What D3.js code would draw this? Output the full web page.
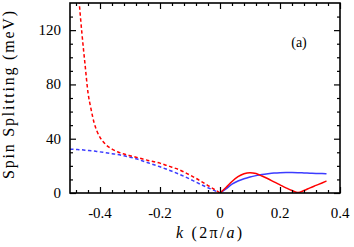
<!DOCTYPE html>
<html>
<head>
<meta charset="utf-8">
<script src="https://cdn.jsdelivr.net/npm/d3@7"></script>
<style>
  body { margin: 0; background: #fff; }
  text { font-family: "Liberation Serif", "Times New Roman", serif; fill: #000; }
</style>
</head>
<body>
<svg id="chart" width="354" height="247"></svg>
<script>
const width = 354;
const height = 247;
const marginTop = 3;
const marginRight = 14;
const marginBottom = 54;
const marginLeft = 70;

// k values and spin splitting (meV)
const kNeg = [-0.5, -0.49, -0.48, -0.47, -0.46, -0.45, -0.44, -0.43, -0.42, -0.41, -0.40, -0.39, -0.38, -0.36, -0.34,
  -0.32, -0.30, -0.28, -0.26, -0.24, -0.22, -0.20, -0.18, -0.16, -0.14, -0.12, -0.10, -0.08,
  -0.06, -0.04, -0.02, 0];
const redDashed = [null, null, null, 142, 117, 95, 74, 62, 52, 45.5, 41, 38, 35.5, 32.3, 30.2,
  28.7, 27.5, 26.4, 25.2, 24, 23, 22, 20.5, 19, 17.5, 15.5, 13.2, 10.8,
  8.2, 5.5, 2.8, 0];
const blueDashed = [32.3, 32.2, 32.1, 31.9, 31.8, 31.5, 31.3, 31.1, 31, 30.6, 30.3, 30, 29.7, 29, 28.3,
  27.4, 26.4, 25.2, 23.8, 22.3, 20.8, 19.3, 17.7, 16, 14.2, 12.3, 10.2, 8,
  5.9, 3.9, 1.9, 0];

const kPos = [0, 0.02, 0.04, 0.06, 0.08, 0.10, 0.12, 0.14, 0.16, 0.18, 0.20, 0.22, 0.24, 0.26,
  0.28, 0.30, 0.32, 0.34, 0.355];
const redSolid = [0, 4, 8.5, 12, 14.2, 15, 14.3, 12.5, 10.5, 8.2, 6, 3.8, 1.8, 0.3,
  1.8, 3.8, 5.6, 7.4, 8.8];
const blueSolid = [0, 3, 6.5, 8.8, 10.5, 11.8, 12.8, 13.6, 14.2, 14.7, 15, 15.1, 15.1, 15,
  14.8, 14.6, 14.4, 14.3, 14.2];

const xMajor = [-0.4, -0.2, 0, 0.2, 0.4];
const xLabels = ["-0.4", "-0.2", "0", "0.2", "0.4"];
const yMajor = [0, 40, 80, 120];

const svg = d3.select("#chart");

const x = d3.scaleLinear()
  .domain([-0.5, 0.4])
  .range([marginLeft, width - marginRight]);

const y = d3.scaleLinear()
  .domain([0, 140])
  .range([height - marginBottom, marginTop]);

const xMinor = d3.range(-0.48, 0.4, 0.04).filter(v => !xMajor.some(m => Math.abs(m - v) < 1e-6));
const yMinor = d3.range(10, 140, 10).filter(v => v % 40 !== 0);

// Curves, clipped to the frame
svg.append("clipPath").attr("id", "clip")
  .append("rect")
  .attr("x", marginLeft).attr("y", marginTop)
  .attr("width", width - marginLeft - marginRight)
  .attr("height", height - marginTop - marginBottom);

const line = d3.line()
  .defined(d => d[1] != null)
  .x(d => x(d[0]))
  .y(d => y(d[1]))
  .curve(d3.curveMonotoneX);

const curves = [
  { k: kNeg, v: blueDashed, color: "#3c3cff", dash: "3.5,2.5" },
  { k: kNeg, v: redDashed, color: "#ff0000", dash: "3.5,2.5" },
  { k: kPos, v: blueSolid, color: "#3c3cff", dash: null },
  { k: kPos, v: redSolid, color: "#ff0000", dash: null }
];

const g = svg.append("g").attr("clip-path", "url(#clip)");
curves.forEach(c => {
  g.append("path")
    .datum(c.k.map((k, i) => [k, c.v[i]]))
    .attr("fill", "none")
    .attr("stroke", c.color)
    .attr("stroke-width", 1.5)
    .attr("stroke-dasharray", c.dash)
    .attr("d", line);
});

// Axes with inward ticks on all four sides
const plotH = height - marginTop - marginBottom;
const plotW = width - marginLeft - marginRight;

function ticksAlong(axisFn, scale, values, size, translate) {
  svg.append("g")
    .attr("transform", translate)
    .call(axisFn(scale).tickValues(values).tickSize(size).tickFormat(""))
    .call(g => g.select(".domain").remove())
    .call(g => g.selectAll("line").attr("stroke-width", 1.2));
}

ticksAlong(d3.axisTop, x, xMajor, 6, `translate(0,${height - marginBottom})`);
ticksAlong(d3.axisTop, x, xMinor, 3, `translate(0,${height - marginBottom})`);
ticksAlong(d3.axisBottom, x, xMajor, 6, `translate(0,${marginTop})`);
ticksAlong(d3.axisBottom, x, xMinor, 3, `translate(0,${marginTop})`);
ticksAlong(d3.axisRight, y, yMajor, 6, `translate(${marginLeft},0)`);
ticksAlong(d3.axisRight, y, yMinor, 3, `translate(${marginLeft},0)`);
ticksAlong(d3.axisLeft, y, yMajor, 6, `translate(${width - marginRight},0)`);
ticksAlong(d3.axisLeft, y, yMinor, 3, `translate(${width - marginRight},0)`);

svg.append("rect")
  .attr("x", marginLeft).attr("y", marginTop)
  .attr("width", plotW).attr("height", plotH)
  .attr("fill", "none")
  .attr("stroke", "#000")
  .attr("stroke-width", 1.6);

// Tick labels
svg.append("g")
  .selectAll("text")
  .data(xMajor)
  .join("text")
  .attr("x", d => x(d))
  .attr("y", height - marginBottom + 25)
  .attr("text-anchor", "middle")
  .attr("font-size", 15)
  .text((d, i) => xLabels[i]);

svg.append("g")
  .selectAll("text")
  .data(yMajor)
  .join("text")
  .attr("x", marginLeft - 9)
  .attr("y", d => y(d) + 5)
  .attr("text-anchor", "end")
  .attr("font-size", 15)
  .text(d => d);

// Axis titles
const xt = svg.append("text")
  .attr("x", 209)
  .attr("y", 238)
  .attr("text-anchor", "middle")
  .attr("font-size", 16)
  .attr("textLength", 66)
  .attr("lengthAdjust", "spacing");
xt.append("tspan").attr("font-style", "italic").text("k");
xt.append("tspan").text(" (2π/");
xt.append("tspan").attr("font-style", "italic").text("a");
xt.append("tspan").text(")");

svg.append("text")
  .attr("transform", `translate(14,95) rotate(-90)`)
  .attr("text-anchor", "middle")
  .attr("font-size", 16)
  .attr("textLength", 168)
  .attr("lengthAdjust", "spacing")
  .text("Spin Splitting (meV)");

svg.append("text")
  .attr("x", 299)
  .attr("y", 47)
  .attr("text-anchor", "middle")
  .attr("font-size", 14)
  .text("(a)");
</script>
</body>
</html>
